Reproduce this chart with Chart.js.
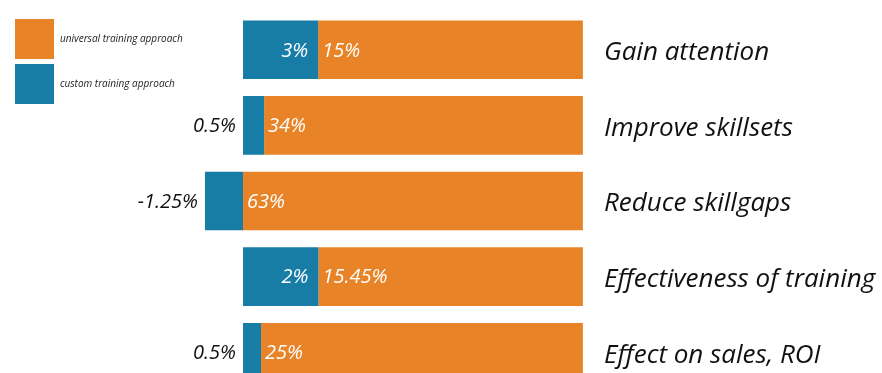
<!DOCTYPE html>
<html>
<head>
<meta charset="utf-8">
<script src="https://cdn.jsdelivr.net/npm/chart.js@4"></script>
<style>
  html, body { margin: 0; padding: 0; background: #fff; overflow: hidden; }
  #wrap { width: 882px; height: 390px; }
</style>
</head>
<body>
<div id="wrap"><canvas id="chart" width="882" height="390"></canvas></div>
<script>
const categories = ["Gain attention", "Improve skillsets", "Reduce skillgaps", "Effectiveness of training", "Effect on sales, ROI"];
// bar lengths as drawn (orange bars all end at 100)
const customValues = [22.1, 6.2, -11.2, 22.2, 5.3];
const universalValues = [77.9, 93.8, 100, 77.8, 94.7];
// printed percentages
const customLabels = ["3%", "0.5%", "-1.25%", "2%", "0.5%"];
const universalLabels = ["15%", "34%", "63%", "15.45%", "25%"];

const ORANGE = "#e88427";
const BLUE = "#177ca6";
const FONT = "'Open Sans', sans-serif";

const labelPlugin = {
    id: "labels",
    afterDatasetsDraw(chart) {
        const ctx = chart.ctx;
        const blueMeta = chart.getDatasetMeta(0);
        const orangeMeta = chart.getDatasetMeta(1);
        ctx.save();
        ctx.textBaseline = "middle";
        ctx.font = "italic 20px " + FONT;
        blueMeta.data.forEach((bar, i) => {
            const y = bar.y + 1;
            const v = customValues[i];
            const left = Math.min(bar.x, bar.base);
            const right = Math.max(bar.x, bar.base);
            if (v > 15) {
                ctx.fillStyle = "#fff";
                ctx.textAlign = "right";
                ctx.fillText(customLabels[i], right - 10, y);
            } else {
                ctx.fillStyle = "#111";
                ctx.textAlign = "right";
                ctx.fillText(customLabels[i], left - 7, y);
            }
            const ob = orangeMeta.data[i];
            ctx.fillStyle = "#fff";
            ctx.textAlign = "left";
            ctx.fillText(universalLabels[i], Math.min(ob.x, ob.base) + 4, y);
        });
        // category names on the right
        ctx.font = "italic 26px " + FONT;
        ctx.fillStyle = "#111";
        ctx.textAlign = "left";
        const yScale = chart.scales.y;
        categories.forEach((c, i) => {
            ctx.fillText(c, 604, yScale.getPixelForValue(i) + 3);
        });
        // legend, top left
        const items = [chart.data.datasets[1], chart.data.datasets[0]];
        ctx.font = "italic 10px " + FONT;
        items.forEach((ds, i) => {
            const top = 19 + i * 45;
            ctx.fillStyle = ds.backgroundColor;
            ctx.fillRect(15, top, 39, 40);
            ctx.fillStyle = "#222";
            ctx.fillText(ds.label, 60, top + 20);
        });
        ctx.restore();
    }
};

new Chart(document.getElementById("chart"), {
    type: "bar",
    data: {
        labels: categories,
        datasets: [
            { label: "custom training approach", data: customValues, backgroundColor: BLUE },
            { label: "universal training approach", data: universalValues, backgroundColor: ORANGE }
        ]
    },
    options: {
        indexAxis: "y",
        responsive: false,
        animation: false,
        layout: { padding: { top: 12, bottom: 0, left: 0, right: 0 } },
        datasets: { bar: { categoryPercentage: 1, barPercentage: 0.775, borderWidth: 0 } },
        scales: {
            x: { stacked: true, min: -71.5, max: 188, display: false },
            y: { stacked: true, display: false }
        },
        plugins: { legend: { display: false }, tooltip: { enabled: false } }
    },
    plugins: [labelPlugin]
});
</script>
</body>
</html>
